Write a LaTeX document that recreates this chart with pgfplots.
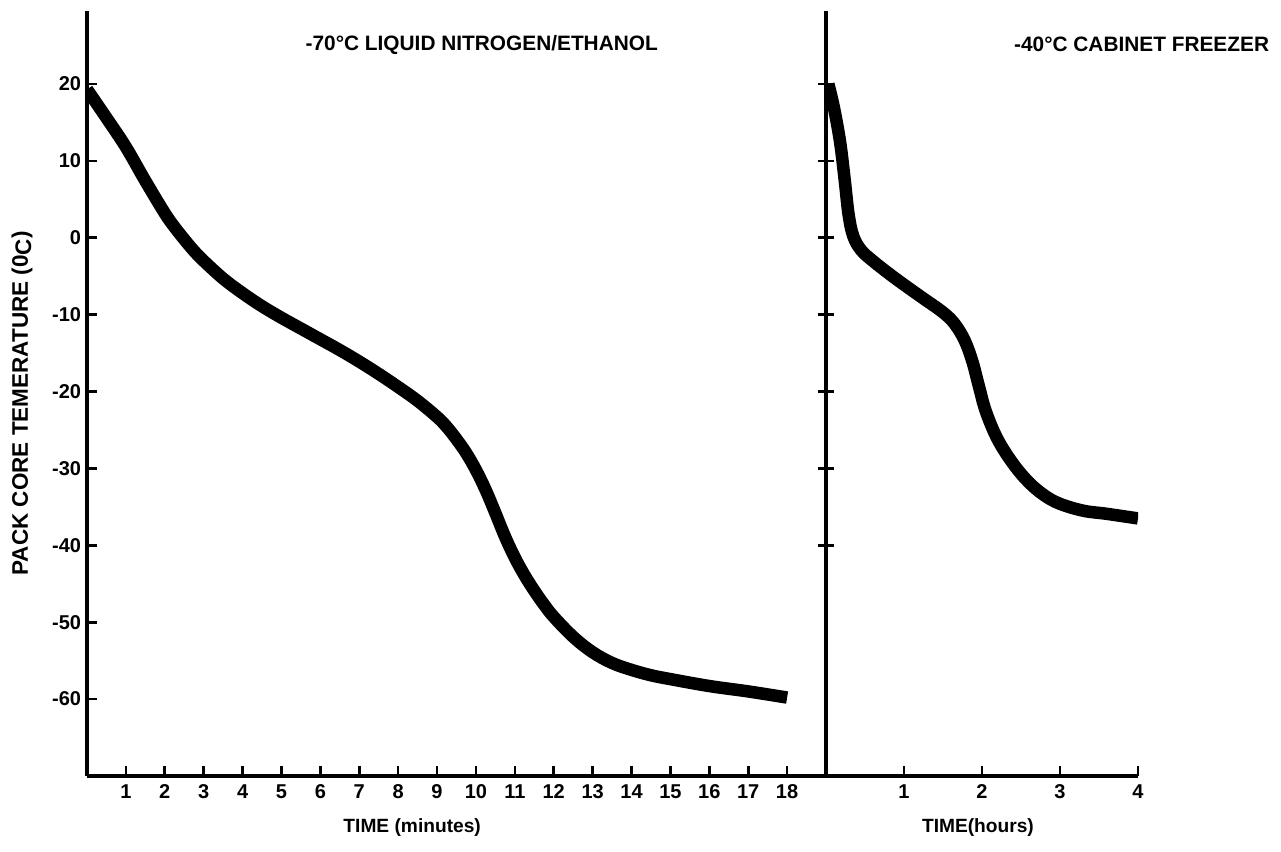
\documentclass[border=0pt]{standalone}
\usepackage{fontspec}
\setmainfont{Liberation Sans}
\usepackage{pgfplots}
\pgfplotsset{compat=1.18}
\begin{document}
\begin{tikzpicture}
\path[use as bounding box] (0pt,0pt) rectangle (768.6pt,511.2pt);
\pgfplotsset{
  common/.style={
    scale only axis,
    height=459pt,
    ymin=-70, ymax=29.5,
    axis line style={line width=2.2pt,-},
    every tick/.style={black,line width=1.6pt},
    major tick length=6pt,
    tick label style={font=\fontsize{12}{14}\selectfont\bfseries},
    xticklabel style={text height=9pt, text depth=0pt, yshift=-1pt},
    /pgf/number format/assume math mode=true,
    clip mode=individual,
  },
  curve/.style={black, line width=7.5pt, smooth, tension=0.6, no markers},
}
% left panel
\begin{axis}[common,
  at={(52.2pt,45.6pt)}, anchor=south west, width=443.4pt,
  xmin=0, xmax=19,
  axis x line*=bottom, axis y line*=left,
  tick align=inside,
  xtick={1,2,...,18}, ytick={-60,-50,...,20},
  ylabel={\fontsize{13.5}{15}\selectfont\bfseries PACK CORE TEMERATURE (0\raisebox{-2pt}{C})},
  ylabel style={at={(axis description cs:-0.088,0.487)}, anchor=center},
]
\addplot[curve] coordinates {
(0,19.3) (0.5,15.6) (1,11.8) (1.5,7.4) (2,3.2) (2.25,1.4) (2.5,-0.2) (2.75,-1.7)
(3,-3.0) (3.5,-5.3) (4,-7.2) (4.5,-8.9) (5,-10.4) (5.5,-11.8) (6,-13.2)
(6.5,-14.6) (7,-16.1) (7.5,-17.7) (8,-19.4) (8.5,-21.2) (9,-23.3) (9.25,-24.6)
(9.5,-26.2) (9.75,-28.0) (10,-30.2) (10.25,-32.8) (10.5,-35.8) (10.75,-38.9)
(11,-41.6) (11.25,-43.9) (11.5,-45.9) (11.75,-47.7) (12,-49.3) (12.5,-51.9) (13,-53.9)
(13.5,-55.3) (14,-56.2) (14.5,-56.9) (15,-57.4) (16,-58.3) (17,-59.0) (18,-59.8)
};
\node[font=\fontsize{12.5}{14}\selectfont\bfseries, anchor=west] at (axis description cs:0.288,0.956) {-70°C LIQUID NITROGEN/ETHANOL};
\node[font=\fontsize{11.5}{13}\selectfont\bfseries] at (axis description cs:0.44,-0.068) {TIME (minutes)};
\end{axis}
% right panel: y axis with centred ticks
\begin{axis}[common,
  at={(495.6pt,45.6pt)}, anchor=south west, width=187.2pt,
  xmin=0, xmax=4,
  axis y line*=left, axis x line=none,
  tick align=center, major tick length=10pt,
  xtick=\empty, ytick={-40,-30,...,20}, yticklabels={},
]
\end{axis}
% right panel: x axis and curve
\begin{axis}[common,
  at={(495.6pt,45.6pt)}, anchor=south west, width=187.2pt,
  xmin=0, xmax=4,
  axis x line*=bottom, axis y line=none,
  tick align=inside,
  xtick={1,2,3,4}, ytick=\empty,
]
\addplot[curve] coordinates {
(0.03,20) (0.1,17) (0.18,12.5) (0.24,7.5) (0.29,3) (0.35,0.2) (0.45,-1.6) (0.6,-3.0)
(0.8,-4.6) (1.0,-6.1) (1.25,-7.9) (1.5,-9.7) (1.65,-11.2) (1.78,-13.4) (1.88,-16.2)
(1.96,-19.3) (2.05,-22.6) (2.2,-26.2) (2.4,-29.4) (2.6,-31.8) (2.8,-33.5) (3.0,-34.6)
(3.3,-35.5) (3.6,-35.9) (4.0,-36.5)
};
\node[font=\fontsize{12.5}{14}\selectfont\bfseries, anchor=east] at (axis description cs:1.439,0.956) {-40°C CABINET FREEZER};
\node[font=\fontsize{11.5}{13}\selectfont\bfseries] at (axis description cs:0.487,-0.068) {TIME(hours)};
\end{axis}
\end{tikzpicture}
\end{document}
